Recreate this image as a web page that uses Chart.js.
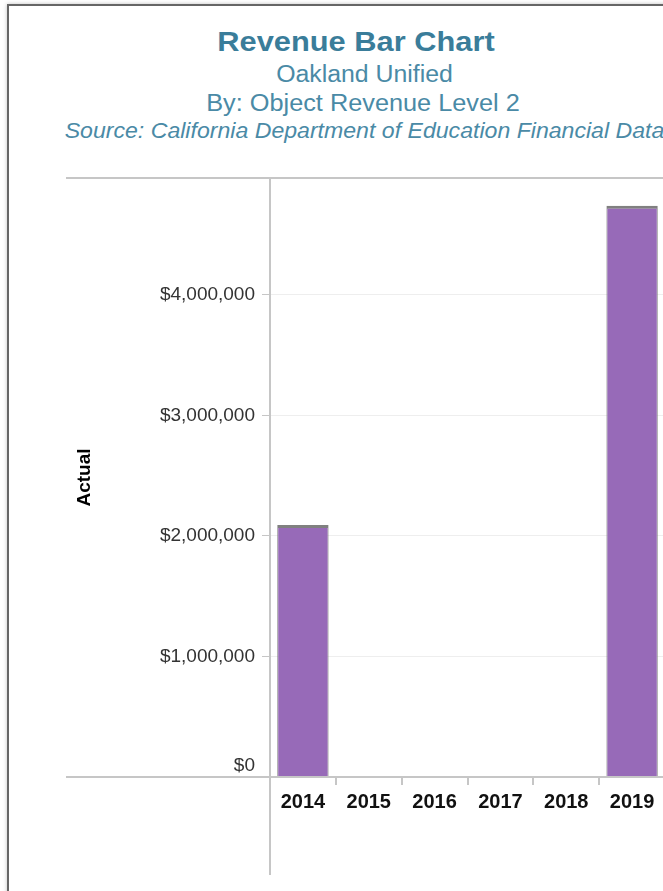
<!DOCTYPE html>
<html>
<head>
<meta charset="utf-8">
<script src="https://cdn.jsdelivr.net/npm/chart.js@4.4.1/dist/chart.umd.min.js"></script>
<style>
    html, body { margin: 0; padding: 0; background: #fff; overflow: hidden; width: 663px; height: 891px; }
    #frame { position: absolute; left: 7px; top: 4px; width: 900px; height: 1000px; border-left: 2px solid #666; border-top: 2px solid #666; box-shadow: 0 0 4px rgba(0,0,0,0.25); }
    .t { position: absolute; left: 0; width: 726px; text-align: center; font-family: "Liberation Sans", Arial, sans-serif; white-space: nowrap; color: #4a8aa6; }
    #title { width: 712px; top: 26px; font-size: 28px; font-weight: bold; color: #3a7d9a; transform: scaleX(1.1); }
    #sub1 { width: 729px; top: 61px; font-size: 23px; transform: scaleX(1.08); }
    #sub2 { top: 90px; font-size: 23px; transform: scaleX(1.1); }
    #sub3 { width: 729px; top: 118px; font-size: 22px; font-style: italic; transform: scaleX(1.05); }
    #chart { position: absolute; left: 0; top: 0; }
</style>
</head>
<body>
<div id="frame"></div>
<div class="t" id="title">Revenue Bar Chart</div>
<div class="t" id="sub1">Oakland Unified</div>
<div class="t" id="sub2">By: Object Revenue Level 2</div>
<div class="t" id="sub3">Source: California Department of Education Financial Data</div>
<canvas id="chart" width="720" height="891"></canvas>
<script>
// data
const years = ["2014", "2015", "2016", "2017", "2018", "2019"];
const actual = [2090000, null, null, null, null, 4740000];
const yTicks = [0, 1000000, 2000000, 3000000, 4000000];
const yMax = 4970000;

const lineColor = "#c6c6c6";

// header/row lines like the table layout
const tableLines = {
    id: "tableLines",
    afterDraw(chart) {
        const { ctx, chartArea } = chart;
        const y0 = chart.scales.y.getPixelForValue(0);
        ctx.save();
        ctx.strokeStyle = lineColor;
        ctx.lineWidth = 2;
        ctx.beginPath();
        ctx.moveTo(66, chartArea.top);
        ctx.lineTo(chart.width, chartArea.top);
        ctx.moveTo(66, y0);
        ctx.lineTo(chart.width, y0);
        ctx.moveTo(chartArea.left, chartArea.top);
        ctx.lineTo(chartArea.left, chart.height - 16);
        ctx.stroke();
        ctx.restore();
    },
};

const ctx = document.getElementById("chart").getContext("2d");
new Chart(ctx, {
    type: "bar",
    data: {
        labels: years,
        datasets: [
            {
                label: "Actual",
                data: actual,
                backgroundColor: "#976ab8",
                borderColor: "#808080",
                borderWidth: { top: 3, left: 1, right: 1, bottom: 0 },
                borderSkipped: false,
                categoryPercentage: 1,
                barPercentage: 0.78,
            },
        ],
    },
    options: {
        responsive: false,
        animation: false,
        layout: { padding: { left: 66, top: 178, right: 55, bottom: 16 } },
        plugins: {
            legend: { display: false },
            tooltip: { enabled: false },
        },
        scales: {
            x: {
                afterFit(scale) { scale.height = 98; },
                border: { display: false },
                grid: { drawOnChartArea: false, tickLength: 8, tickColor: lineColor, lineWidth: 2 },
                ticks: {
                    color: "#111",
                    padding: 5,
                    font: { family: "Liberation Sans", size: 20, weight: "bold" },
                },
            },
            y: {
                min: 0,
                max: yMax,
                afterFit(scale) { scale.width = 204; },
                afterBuildTicks(scale) {
                    scale.ticks = yTicks.map((v) => ({ value: v }));
                },
                border: { display: false },
                grid: { color: "#eeeeee", lineWidth: 1, tickLength: 8, tickColor: lineColor },
                ticks: {
                    color: "#333",
                    padding: 7,
                    autoSkip: false,
                    font: { family: "Liberation Sans", size: 19 },
                    // the $0 label sits just above the base line
                    callback: (v) => (v === 0 ? ["$0", ""] : "$" + v.toLocaleString("en-US")),
                },
                title: {
                    display: true,
                    text: "Actual",
                    color: "#000",
                    padding: { top: 7, bottom: 0 },
                    font: { family: "Liberation Sans", size: 19, weight: "bold" },
                },
            },
        },
    },
    plugins: [tableLines],
});
</script>
</body>
</html>
